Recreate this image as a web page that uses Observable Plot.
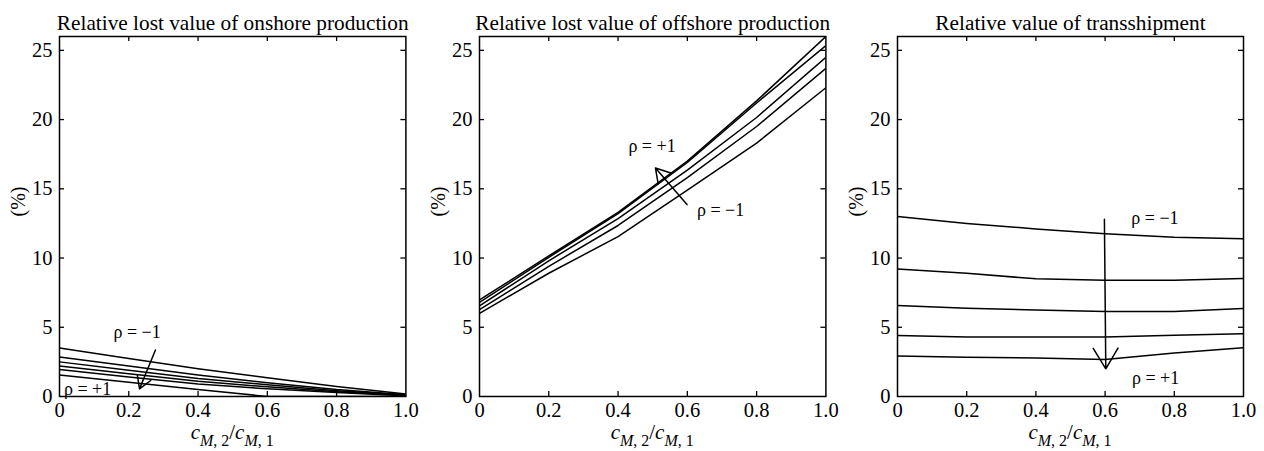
<!DOCTYPE html>
<html><head><meta charset="utf-8">
<script src="https://cdn.jsdelivr.net/npm/d3@7"></script>
<script src="https://cdn.jsdelivr.net/npm/@observablehq/plot@0.6"></script>
<style>
body{margin:0;background:#fff;}
#wrap{position:relative;width:1264px;height:451px;overflow:hidden;background:#fff;}
.panel{position:absolute;top:0;}
</style></head><body><div id="wrap"></div>
<script>
// ---- data ----
const ratio = [0, 0.2, 0.4, 0.6, 0.8, 1.0];
const xTicks = [0, 0.2, 0.4, 0.6, 0.8, 1.0];
const yTicks = [0, 5, 10, 15, 20, 25];
const titles = ["Relative lost value of onshore production", "Relative lost value of offshore production", "Relative value of transshipment"];

// onshore (six curves, rho = -1 at top)
const onshore1 = [3.5, 2.75, 2.0, 1.35, 0.72, 0.18];
const onshore2 = [2.85, 2.2, 1.55, 1.0, 0.5, 0.12];
const onshore3 = [2.5, 1.9, 1.3, 0.85, 0.42, 0.1];
const onshore4 = [2.2, 1.65, 1.1, 0.7, 0.35, 0.08];
const onshore5 = [1.95, 1.4, 0.9, 0.55, 0.28, 0.05];
const onshore6 = [1.55, 1.03, 0.5, 0, 0, 0];

// offshore (rho = +1 at top)
const offshore1 = [6.98, 10.15, 13.3, 17.0, 21.35, 26.0];
const offshore2 = [6.8, 10.05, 13.2, 16.9, 21.2, 25.35];
const offshore3 = [6.55, 9.8, 12.85, 16.35, 20.15, 24.5];
const offshore4 = [6.27, 9.4, 12.35, 15.8, 19.5, 23.7];
const offshore5 = [6.0, 8.9, 11.55, 14.9, 18.3, 22.3];

// transshipment (rho = -1 at top)
const trans1 = [13.0, 12.5, 12.1, 11.75, 11.5, 11.4];
const trans2 = [9.2, 8.9, 8.5, 8.4, 8.4, 8.53];
const trans3 = [6.58, 6.37, 6.25, 6.13, 6.13, 6.35];
const trans4 = [4.4, 4.3, 4.3, 4.3, 4.42, 4.54];
const trans5 = [2.93, 2.83, 2.78, 2.67, 3.15, 3.53];

// annotations
const onshoreArrow = [{x1: 0.277, y1: 3.36, x2: 0.231, y2: 0.55}];
const onshoreLabels = [{x: 0.224, y: 4.63, t: "ρ = −1"}, {x: 0.081, y: 0.5, t: "ρ = +1"}];
const offshoreArrow = [{x1: 0.599, y1: 13.86, x2: 0.508, y2: 16.5}];
const offshoreLabels = [{x: 0.498, y: 18.06, t: "ρ = +1"}, {x: 0.696, y: 13.43, t: "ρ = −1"}];
const transArrow = [{x1: 0.598, y1: 12.8, x2: 0.602, y2: 2.0}];
const transLabels = [{x: 0.744, y: 12.9, t: "ρ = −1"}, {x: 0.746, y: 1.34, t: "ρ = +1"}];

const panels = [
  {title: titles[0], series: [onshore1, onshore2, onshore3, onshore4, onshore5, onshore6], arrows: onshoreArrow, labels: onshoreLabels, left: 59.3, w: 346.4},
  {title: titles[1], series: [offshore1, offshore2, offshore3, offshore4, offshore5], arrows: offshoreArrow, labels: offshoreLabels, left: 479.3, w: 346.4},
  {title: titles[2], series: [trans1, trans2, trans3, trans4, trans5], arrows: transArrow, labels: transLabels, left: 896.7, w: 346}
];

const FONT = "'Liberation Serif', 'Times New Roman', serif";
const ML = 59, MR = 15, MT = 36, MB = 55, H = 451;
const innerH = H - MT - MB;
const fmt = d => d === 0 ? "0" : d.toFixed(1);
const wrap = document.getElementById("wrap");
const SW = 1.5;

panels.forEach(p => {
  const data = p.series.flatMap((vals, i) => vals.map((v, j) => ({x: ratio[j], y: v, s: i})));
  const W = p.w;
  const inner = xTicks.slice(1, -1);
  const innerY = yTicks.slice(1);
  const plot = Plot.plot({
    width: ML + W + MR, height: H,
    marginLeft: ML, marginRight: MR, marginTop: MT, marginBottom: MB,
    x: {domain: [0, 1], label: null},
    y: {domain: [0, 26], label: null},
    style: {fontFamily: FONT, fontSize: "20px", color: "#000", background: "transparent", overflow: "visible"},
    marks: [
      Plot.axisX(xTicks, {tickSize: 0, tickPadding: 6, tickFormat: fmt, fontSize: 20.5, fontFamily: FONT, label: null}),
      Plot.axisY(yTicks, {tickSize: 0, tickPadding: 7, fontSize: 20.5, fontFamily: FONT, label: null}),
      Plot.tickX(inner, {x: d => d, insetTop: innerH - 5, stroke: "#000", strokeWidth: 1.3}),
      Plot.tickX(inner, {x: d => d, insetBottom: innerH - 5, stroke: "#000", strokeWidth: 1.3}),
      Plot.tickY(innerY, {y: d => d, insetRight: W - 5, stroke: "#000", strokeWidth: 1.3}),
      Plot.tickY(innerY, {y: d => d, insetLeft: W - 5, stroke: "#000", strokeWidth: 1.3}),
      Plot.line(data, {x: "x", y: "y", z: "s", stroke: "#000", strokeWidth: SW, clip: true}),
      Plot.arrow(p.arrows, {x1: "x1", y1: "y1", x2: "x2", y2: "y2", stroke: "#000", strokeWidth: SW, headLength: 24, headAngle: 62}),
      Plot.text(p.labels, {x: "x", y: "y", text: "t", fontSize: 18, fontFamily: FONT, fill: "#000"}),
      Plot.frame({stroke: "#000", strokeWidth: SW}),
      Plot.text([p.title], {frameAnchor: "top", dy: -22, fontSize: 21.3, fontFamily: FONT, fill: "#000"}),
      Plot.text(["(%)"], {frameAnchor: "left", dx: -41, rotate: -90, fontSize: 20, fontFamily: FONT, fill: "#000"})
    ]
  });
  const div = document.createElement("div");
  div.className = "panel";
  div.style.left = (p.left - ML) + "px";
  div.appendChild(plot);
  wrap.appendChild(div);

  // x-axis label with subscripts
  const xs = plot.scale("x");
  const cx = xs.apply(0.5);
  const svg = d3.select(plot);
  const t = svg.append("text").attr("x", cx).attr("y", H - 12).attr("text-anchor", "middle")
    .attr("font-family", FONT).attr("font-size", 21).attr("fill", "#000");
  t.append("tspan").attr("font-style", "italic").text("c");
  t.append("tspan").attr("font-style", "italic").attr("font-size", 16).attr("dy", 7).text("M");
  t.append("tspan").attr("font-size", 16).text(", 2");
  t.append("tspan").attr("dy", -7).text("/");
  t.append("tspan").attr("font-style", "italic").text("c");
  t.append("tspan").attr("font-style", "italic").attr("font-size", 16).attr("dy", 7).text("M");
  t.append("tspan").attr("font-size", 16).text(", 1");
});
</script></body></html>
